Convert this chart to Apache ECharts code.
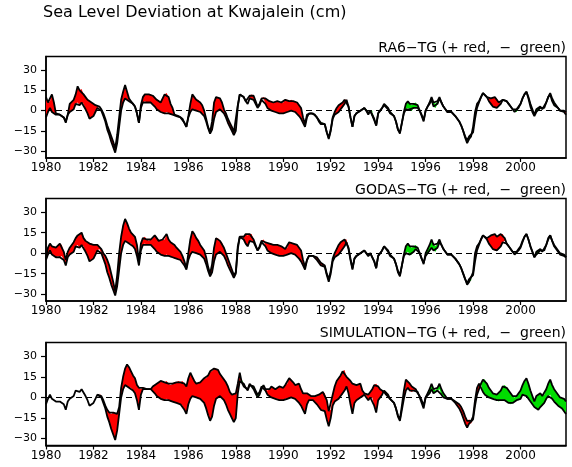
<!DOCTYPE html>
<html><head><meta charset="utf-8">
<script src="https://cdn.jsdelivr.net/npm/echarts@6/dist/echarts.min.js"></script>
<style>html,body{margin:0;padding:0;background:#fff}#c{width:572px;height:467px}</style>
</head><body><div id="c"></div>
<script>
// ---- data (monthly, Jan 1980 .. Dec 2001), cm ----
const START_YEAR = 1980;
const END_YEAR = 2001 + 11 / 12;
const TG = [
 -5,-1,2,-1,-2,-3,-2,-3,-2,-5,-9,-3,
 -1,0,1,5,6,4,6,5,1,-2,-6,-5,
 -4,-1,2,3,0,-4,-8,-14,-18,-23,-27,-31,
 -24,-12,0,6,9,8,7,7,5,3,-2,-9,
 2,6,7,6,6,6,5,3,1,0,-1,-2,
 -2,-1,-2,-3,-3,-4,-4,-4,-5,-6,-9,-12,
 -5,-1,1,1,0,-1,-1,-2,-4,-8,-13,-17,
 -14,-6,-1,0,1,0,-2,-5,-9,-12,-15,-18,
 -15,3,12,13,10,7,5,9,9,8,5,2,
 4,8,9,5,2,1,0,-1,-1,-1,-2,-2,
 -2,-1,-1,0,0,-1,-1,-2,-4,-6,-9,-12,
 -5,-2,-2,-2,-3,-5,-7,-9,-9,-10,-16,-21,
 -15,-6,-3,-2,-1,1,2,5,8,3,-5,-12,
 -4,-2,-1,0,0,2,1,-2,0,0,-6,-11,
 -2,0,2,5,4,2,-1,-2,-4,-8,-14,-17,
 -9,-1,5,7,5,4,5,6,4,0,-4,-8,
 0,3,6,10,6,5,7,10,6,3,1,-1,
 -2,-1,-2,-4,-6,-8,-11,-15,-19,-22,-19,-19,
 -16,-6,2,6,10,13,13,10,7,5,3,2,
 2,3,5,8,9,7,5,3,1,0,1,3,
 5,9,12,14,10,5,1,-3,1,2,3,1,
 2,6,10,13,9,6,4,2,0,-1,-1,-3
];
const RA6 = [
 10,6,7,12,6,-2,-2,-3,-2,-5,-8,-3,
 5,6,8,12,18,15,16,12,10,8,7,6,
 5,4,3,3,1,-2,-6,-11,-15,-19,-23,-28,
 -18,-5,8,14,19,14,9,7,5,3,-2,-9,
 4,10,12,12,12,12,11,10,8,7,6,9,
 12,13,10,5,2,-3,-4,-4,-5,-6,-9,-12,
 -4,5,12,10,8,8,6,4,0,-6,-12,-16,
 -8,6,10,10,9,6,1,-2,-6,-9,-12,-16,
 -15,4,12,13,10,7,6,11,12,11,7,3,
 5,9,10,9,8,7,7,6,7,7,6,6,
 6,8,8,7,8,7,7,6,4,2,-5,-10,
 -3,-2,-2,-2,-3,-5,-8,-10,-10,-10,-16,-20,
 -14,-5,-1,2,4,5,6,8,8,3,-5,-12,
 -4,-2,-1,0,0,2,0,-3,0,-1,-7,-11,
 -2,0,2,4,3,1,-2,-3,-4,-8,-14,-16,
 -9,-2,1,2,1,0,2,2,2,0,-3,-7,
 0,3,5,8,3,2,5,9,6,3,1,-1,
 -2,-1,-2,-4,-6,-8,-11,-15,-20,-24,-21,-19,
 -12,-1,5,7,10,13,13,10,9,9,10,10,
 9,6,6,8,9,7,5,3,1,-1,-1,2,
 5,9,12,14,9,3,-1,-4,-1,0,2,1,
 2,6,10,12,7,4,3,2,0,-1,0,-1
];
const GODAS = [
 -4,4,7,5,5,4,5,7,6,1,-5,1,
 4,6,8,11,13,14,15,11,9,8,7,7,
 6,6,6,5,3,0,-2,-5,-9,-15,-21,-28,
 -16,0,12,20,25,22,18,15,14,12,6,-6,
 7,11,12,10,9,10,11,13,12,9,9,10,
 10,14,10,8,7,6,4,3,1,-2,-6,-11,
 0,10,16,14,11,9,6,4,2,-3,-10,-15,
 -8,4,11,11,9,8,4,0,-4,-8,-12,-16,
 -14,5,12,13,12,14,13,14,14,10,6,2,
 5,9,10,8,7,7,7,6,6,6,5,5,
 4,3,4,8,8,7,6,6,4,2,-5,-10,
 -5,-2,-2,-2,-2,-3,-5,-7,-8,-9,-15,-19,
 -13,-4,0,3,6,8,9,10,10,4,-4,-11,
 -4,-2,-1,0,0,2,1,-2,0,0,-6,-11,
 -2,0,2,5,4,1,-2,-3,-4,-8,-13,-16,
 -9,-2,0,1,-1,-1,1,3,3,0,-4,-7,
 -2,0,1,4,2,1,4,8,6,3,1,-1,
 -2,-1,-2,-4,-6,-8,-11,-15,-19,-23,-21,-20,
 -14,0,5,7,10,13,13,11,12,13,14,14,
 12,13,14,14,11,7,5,3,1,-1,0,2,
 4,8,12,14,10,5,1,-3,-1,0,2,1,
 2,6,11,13,9,5,3,1,-1,-2,-2,-3
];
const SIMULATION = [
 null,null,null,null,null,null,null,null,null,null,null,null,
 null,null,null,null,null,null,null,null,null,null,null,null,
 null,null,2,3,1,-2,-6,-9,-11,-12,-11,-12,
 -12,-7,7,15,21,24,22,19,16,14,9,7,
 6,7,7,6,6,6,8,9,10,11,12,11,
 11,12,10,9,10,11,11,12,11,12,10,8,
 14,18,15,12,10,10,11,12,14,14,16,19,
 19,21,21,20,17,15,14,11,8,4,2,2,
 3,10,18,11,8,7,6,10,8,6,3,0,
 2,6,9,6,5,6,8,7,6,7,8,7,
 7,9,10,14,13,11,9,10,10,6,3,3,
 3,2,1,1,1,1,2,3,4,3,-2,-10,
 -9,2,8,12,14,16,19,20,15,14,12,10,
 10,9,9,10,5,3,2,2,4,6,9,10,
 8,6,5,4,2,1,-1,-2,-4,-8,-13,-16,
 -6,5,13,12,10,8,7,6,3,1,-2,-6,
 0,1,3,6,3,4,5,6,2,0,0,-1,
 -2,-1,-2,-3,-4,-5,-7,-10,-14,-17,-16,-17,
 -14,-2,7,10,10,4,2,1,0,0,-1,-1,
 -2,-3,-2,-2,-2,-3,-4,-5,-4,-3,-2,-2,
 -1,2,2,1,0,-3,-5,-7,-8,-9,-7,-6,
 -4,-1,1,2,-1,-3,-4,-6,-7,-8,-10,-12
];
const X_TICKS = [1980,1982,1984,1986,1988,1990,1992,1994,1996,1998,2000];
const Y_TICKS = [-30,-15,0,15,30];
const MAIN_TITLE = 'Sea Level Deviation at Kwajalein (cm)';
const PANEL_TITLES = ['RA6\u2212TG (+ red,  \u2212  green)', 'GODAS\u2212TG (+ red,  \u2212  green)', 'SIMULATION\u2212TG (+ red,  \u2212  green)'];
const MODELS = [RA6, GODAS, SIMULATION];

// ---- layout / style ----
const RED = '#ff0000', GREEN = '#00dc00';
const FONT = 'DejaVu Sans';
const PANELS = [ {top:56.5, height:101.5, titleTop:41}, {top:198.5, height:102.5, titleTop:183}, {top:342.5, height:103, titleTop:326} ];
const times = TG.map((_, i) => START_YEAR + i / 12);

// fills the band between TG and a model: one polygon per run of same sign
function fillRenderer(model) {
  return function (params, api) {
    const children = [];
    let cur = null;
    const flush = () => {
      if (cur && cur.top.length > 1 && cur.sign !== 0) {
        const pts = cur.top.concat(cur.bot.slice().reverse()).map(p => api.coord(p));
        children.push({ type: 'polygon', shape: { points: pts },
          style: { fill: cur.sign > 0 ? RED : GREEN, stroke: null } });
      }
      cur = null;
    };
    for (let i = 0; i < TG.length; i++) {
      const a = TG[i], m = model[i];
      if (a == null || m == null) { flush(); continue; }
      const d = m - a, s = Math.sign(d);
      if (cur == null) { cur = { sign: s, top: [[times[i], m]], bot: [[times[i], a]] }; continue; }
      if (s === 0 || cur.sign === 0 || s === cur.sign) {
        if (cur.sign === 0) cur.sign = s;
        cur.top.push([times[i], m]); cur.bot.push([times[i], a]);
      } else {
        const a0 = TG[i - 1], m0 = model[i - 1], d0 = m0 - a0;
        const f = d0 / (d0 - d);
        const tc = times[i - 1] + f * (times[i] - times[i - 1]);
        const yc = a0 + f * (a - a0);
        cur.top.push([tc, yc]); cur.bot.push([tc, yc]);
        flush();
        cur = { sign: s, top: [[tc, yc], [times[i], m]], bot: [[tc, yc], [times[i], a]] };
      }
    }
    flush();
    return { type: 'group', children };
  };
}

const grid = [], xAxis = [], yAxis = [], series = [];
const title = [{ text: MAIN_TITLE, left: 43, top: 5, padding: 0,
  textStyle: { fontFamily: FONT, fontSize: 16, fontWeight: 'normal', color: '#000' } }];
PANELS.forEach((p, k) => {
  grid.push({ left: 46, width: 520, top: p.top, height: p.height, show: true,
    borderColor: '#000', borderWidth: 1.5, backgroundColor: 'transparent' });
  title.push({ text: PANEL_TITLES[k], right: 6, top: p.titleTop, padding: 0,
    textStyle: { fontFamily: FONT, fontSize: 14, fontWeight: 'normal', color: '#000' } });
  xAxis.push({ type: 'value', gridIndex: k, min: START_YEAR, max: END_YEAR,
    axisLine: { show: true, onZero: false, lineStyle: { color: '#000', width: 1.5 } },
    axisTick: { show: true, customValues: X_TICKS, length: 4, lineStyle: { color: '#000', width: 1.2 } },
    axisLabel: { customValues: X_TICKS, color: '#000', fontFamily: FONT, fontSize: 12, margin: 4,
      formatter: v => String(v) },
    splitLine: { show: false } });
  yAxis.push({ type: 'value', gridIndex: k, min: -35, max: 40,
    axisLine: { show: true, onZero: false, lineStyle: { color: '#000', width: 1.5 } },
    axisTick: { show: true, customValues: Y_TICKS, length: 5, lineStyle: { color: '#000', width: 1.2 } },
    axisLabel: { customValues: Y_TICKS, color: '#000', fontFamily: FONT, fontSize: 11, margin: 9,
      formatter: v => (v < 0 ? '\u2212' + Math.abs(v) : String(v)) },
    splitLine: { show: false } });
  const model = MODELS[k];
  series.push({ type: 'custom', xAxisIndex: k, yAxisIndex: k, z: 2, clip: true,
    renderItem: fillRenderer(model),
    data: [[times[0], TG[0]]],
    markLine: { silent: true, z: 1, symbol: ['none', 'none'], label: { show: false },
      lineStyle: { color: '#000', width: 1, type: [6, 4] }, data: [{ yAxis: 0 }] } });
  series.push({ type: 'line', xAxisIndex: k, yAxisIndex: k, z: 3, showSymbol: false,
    data: times.map((t, i) => [t, model[i] == null ? '-' : model[i]]),
    lineStyle: { color: '#000', width: 1.8 } });
  series.push({ type: 'line', xAxisIndex: k, yAxisIndex: k, z: 3, showSymbol: false,
    data: times.map((t, i) => [t, TG[i]]),
    lineStyle: { color: '#000', width: 1.8 } });
});

const chart = echarts.init(document.getElementById('c'), null, { renderer: 'canvas' });
chart.setOption({ animation: false, backgroundColor: '#fff', title, grid, xAxis, yAxis, series });
</script>
</body></html>
